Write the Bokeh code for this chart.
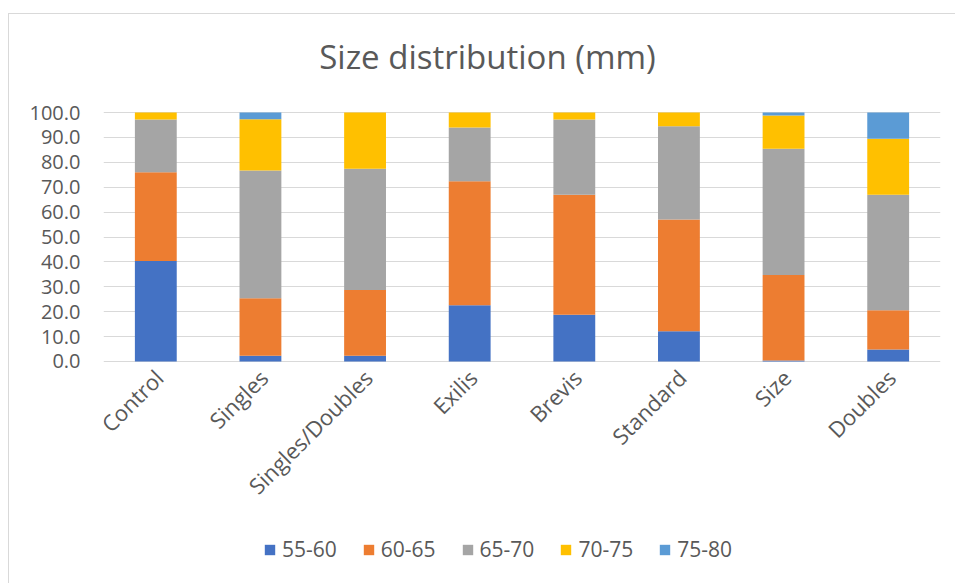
from math import pi

from bokeh.core.properties import value
from bokeh.embed import file_html
from bokeh.resources import INLINE
from bokeh.plotting import figure
from bokeh.models import (ColumnDataSource, Label, Legend, LegendItem,
                          FixedTicker, NumeralTickFormatter)

# Share of fruit in each size class (%) per treatment
groups = ["Control", "Singles", "Singles/Doubles", "Exilis", "Brevis",
          "Standard", "Size", "Doubles"]
classes = ["55-60", "60-65", "65-70", "70-75", "75-80"]
s55_60 = [40.4, 2.3, 2.3, 22.6, 18.8, 12.1, 0.4, 4.8]
s60_65 = [35.6, 23.1, 26.4, 49.8, 48.2, 44.9, 34.3, 15.8]
s65_70 = [21.2, 51.3, 48.7, 21.6, 30.2, 37.5, 50.8, 46.4]
s70_75 = [2.8, 20.6, 22.6, 6.0, 2.8, 5.5, 13.3, 22.5]
s75_80 = [0.0, 2.7, 0.0, 0.0, 0.0, 0.0, 1.2, 10.5]
y_ticks = [0, 10, 20, 30, 40, 50, 60, 70, 80, 90, 100]

colors = ["#4472C4", "#ED7D31", "#A5A5A5", "#FFC000", "#5B9BD5"]
TEXT = "#595959"
GRID = "#D9D9D9"
FONT = "Open Sans"

data = {"group": groups, "base": [0] * len(groups)}
for name, vals in zip(classes, [s55_60, s60_65, s65_70, s70_75, s75_80]):
    data[name] = vals
source = ColumnDataSource(data)

# The plotting frame runs the full height of the chart area so that the
# title, category labels and legend can all be placed inside it.
p = figure(width=947, height=570, x_range=groups, y_range=(-89.6, 139.4),
           output_backend="svg", toolbar_location=None,
           x_axis_location=None,
           min_border_left=94, min_border_right=16,
           min_border_top=0, min_border_bottom=0,
           margin=(13, 0, 0, 8),
           styles={"border-left": f"1px solid {GRID}",
                   "border-top": f"1px solid {GRID}"})
p.outline_line_color = None
p.background_fill_color = "white"
p.border_fill_color = "white"

renderers = p.vbar_stack(classes, x="group", width=0.4, color=colors,
                         line_color=None, source=source)

# value axis
p.yaxis.ticker = FixedTicker(ticks=y_ticks)
p.yaxis.formatter = NumeralTickFormatter(format="0.0")
p.yaxis.axis_line_color = None
p.yaxis.major_tick_line_color = None
p.yaxis.minor_tick_line_color = None
p.yaxis.major_tick_out = 0
p.yaxis.major_label_standoff = 23
p.yaxis.major_label_text_font = FONT
p.yaxis.major_label_text_font_size = "20px"
p.yaxis.major_label_text_color = TEXT

p.xgrid.grid_line_color = None
p.ygrid.grid_line_color = GRID
p.ygrid.ticker = FixedTicker(ticks=y_ticks)

# category labels, slanted under each bar
p.text(x="group", y="base", text="group", source=source, angle=pi / 4,
       text_align="right", text_baseline="middle", x_offset=3, y_offset=12,
       text_font=value(FONT), text_font_size="22px", text_color=TEXT)

# chart title
p.add_layout(Label(x=384, y=528, x_units="screen", y_units="screen",
                   text="Size distribution (mm)", text_font=FONT,
                   text_font_size="33px", text_color=TEXT,
                   text_align="center", text_baseline="middle"))

legend = Legend(items=[LegendItem(label=c, renderers=[r])
                       for c, r in zip(classes, renderers)],
                orientation="horizontal", location=(160, 21),
                glyph_width=13, glyph_height=13, label_standoff=6,
                spacing=25, padding=0, margin=0,
                label_text_font=FONT, label_text_font_size="21px",
                label_text_color=TEXT, border_line_color=None,
                background_fill_alpha=0)
p.add_layout(legend, "center")

open("out.html", "w").write(file_html(p, INLINE))
